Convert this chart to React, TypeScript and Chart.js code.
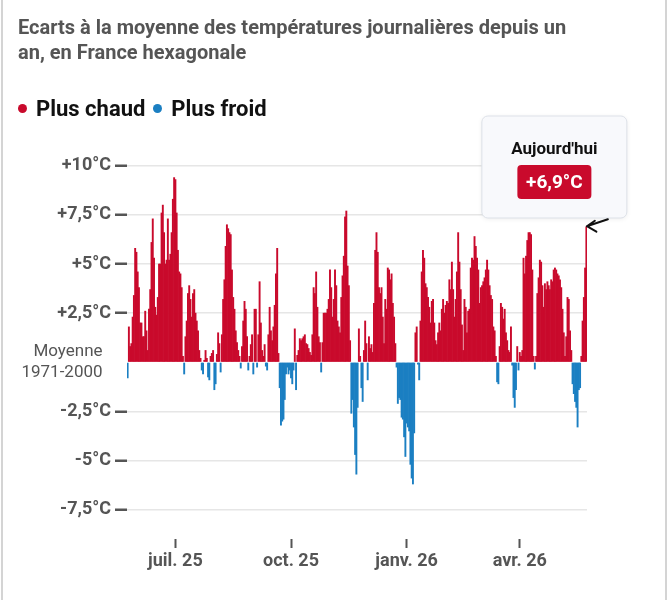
import React, { useEffect, useRef } from 'react';
import { Chart, registerables } from 'chart.js';

Chart.register(...registerables);

// Daily temperature anomaly (°C) vs the 1971-2000 mean, France hexagonale,
// one value per day starting on FIRST_DAY.
const FIRST_DAY = '2025-05-24';

const LATE_SPRING_SUMMER_2025 = [
  -0.8, 1.8, 0.8, 0.95, 2.3, 3.4, 5.8, 5.6, 4.6, 3.8,
  2.0, 2.0, 1.3, 1.3, 2.6, 1.6, 0.6, 2.7, 3.7, 6.1,
  7.3, 5.3, 2.8, 2.4, 3.3, 5.0, 5.0, 7.6, 8.0, 6.6,
  5.0, 5.2, 7.3, 5.2, 5.5, 6.6, 8.3, 9.4, 9.3, 7.6,
  5.7, 4.6, 4.5, 3.8, 0.3, -0.6, 1.3, 2.1, 3.5, 3.9,
  3.2, 2.3, 3.5, 3.7, 2.5, 2.1, 1.6, 0.6, 0.2, -0.4,
  -0.6, 0.1, 0.6, 0.2, -0.75, -0.9, 0.3, 0.45, 0.6, -1.4,
  -1.1, 0.4, 1.5, 0.95, -0.5, 1.4, 3.2, 4.2, 5.9, 7.0,
  6.8, 6.6, 6.5, 4.7, 3.3, 2.7, 1.6, 1.0, 0.6,
];

const AUTUMN_2025 = [
  0.3, -0.3, 0.8, 2.1, 3.1, 2.7, 1.3, -0.4, 0.3, 0.9,
  1.4, -0.6, 2.7, 2.7, -0.25, 1.4, 4.1, 2.0, 0.6, 0.3,
  0.9, -0.2, -0.4, 1.4, 2.8, 1.6, 1.1, 1.8, 2.9, 4.5,
  5.8, 0.45, -1.3, -3.2, -3.0, -2.9, -1.9, -0.6, -0.25, -0.6,
  -0.4, -0.8, -1.1, -0.4, 1.7, -1.4, 0.35, 0.6, 1.2, 1.1,
  1.2, 1.3, 1.4, 0.95, 0.9, 0.7, 0.5, 0.35, 1.4, 3.8,
  3.5, 4.6, 2.8, 1.3, 1.0, -0.5, 1.0, 2.5, 2.5, 2.5,
  2.7, 3.2, 4.7, 3.8, 2.3, 3.2, 4.7, 3.9, 2.1, 1.8,
  1.5, 3.3, 4.4, 5.4, 7.4, 7.7, 4.9, 3.9, 1.1, -2.6, -1.9, -3.3,
];

const WINTER_2025_26 = [
  -4.7, -5.7, -2.3, 1.7, 0.3, -1.3, -2.0, 0.6, 2.1, 0.95,
  -0.9, 1.3, 0.7, 0.9, 0.5, 3.0, 5.7, 6.6, 5.6, 3.8,
  3.5, 3.8, 2.3, 0.95, 3.2, 2.7, 4.8, 4.7, 4.2, 4.5,
  3.0, 2.3, 0.95, -0.25, -2.1, -1.8, -1.9, -2.8, -2.9, -3.8,
  -4.8, -3.1, -3.3, -3.5, -5.2, -5.9, -6.2, -3.6, 1.5, 1.8,
  -0.1, -0.9, 2.1, 4.6, 5.7, 5.3, 4.0, 3.8, 3.3, 2.8,
  2.0, 3.1, 3.2, 2.0, 1.1, 0.9, 1.5, 2.0, 1.6, 2.7,
  3.2, 2.5, 2.9, 3.1, 3.0, 4.2, 3.7, 5.1, 3.7, 2.3,
  3.2, 4.6, 6.6, 5.1, 3.7, 1.9, 0.6, 3.2, 2.8, 1.5, 2.6, 2.7,
];

const SPRING_2026 = [
  4.8, 5.3, 5.2, 6.4, 5.9, 5.3, 4.7, 3.0, 3.8, 3.9,
  4.1, 4.3, 4.7, 5.2, 4.7, 3.9, 3.4, 3.2, 1.8, 1.6,
  0.3, -1.0, -1.1, 0.8, 3.0, 2.8, 2.2, 2.7, 1.5, 1.1,
  0.6, 0.5, 1.8, -0.15, -1.8, -2.3, -1.4, 0.8, -0.4, 0.5,
  0.3, 0.6, 5.3, 4.5, 5.4, 6.2, 6.6, 6.6, 6.5, 4.7,
  0.3, -0.35, 0.3, 3.5, 4.3, 5.2, 5.1, 3.9, 2.8, 4.0,
  3.7, 4.1, 3.9, 3.7, 4.2, 4.1, 4.7, 4.8, 4.7, 4.5,
  4.4, 4.2, 3.8, 2.7, 1.5, 0.3, 1.3, 3.3, 3.2, 1.6,
  0.6, -1.1, -1.6, -2.0, -2.3, -3.3, -1.4, -1.3, 0.3, 2.1, 3.3, 4.8, 6.9,
];

const TICK_DATES = ['2025-07-01', '2025-10-01', '2026-01-01', '2026-04-01'];
const TICK_LABELS = ['juil. 25', 'oct. 25', 'janv. 26', 'avr. 26'];

const Y_TICKS = [-7.5, -5, -2.5, 0, 2.5, 5, 7.5, 10];
const Y_TICK_LABELS: (string | string[])[] = [
  '-7,5°C', '-5°C', '-2,5°C', ['Moyenne  ', '1971-2000  '], '+2,5°C', '+5°C', '+7,5°C', '+10°C',
];

const WARM = '#c90a2c';
const COLD = '#1b7fc2';
const AXIS_TEXT = '#555555';
const FONT = 'Roboto, sans-serif';

const VALUES = [...LATE_SPRING_SUMMER_2025, ...AUTUMN_2025, ...WINTER_2025_26, ...SPRING_2026];

function buildDays(start: string, count: number): string[] {
  const out: string[] = [];
  const d = new Date(start + 'T12:00:00Z');
  for (let i = 0; i < count; i++) {
    out.push(d.toISOString().slice(0, 10));
    d.setUTCDate(d.getUTCDate() + 1);
  }
  return out;
}

const DAYS = buildDays(FIRST_DAY, VALUES.length);

function formatAnomaly(v: number): string {
  return (v >= 0 ? '+' : '') + v.toFixed(1).replace('.', ',') + '°C';
}

function roundRect(ctx: CanvasRenderingContext2D, x: number, y: number, w: number, h: number, r: number) {
  ctx.beginPath();
  ctx.moveTo(x + r, y);
  ctx.lineTo(x + w - r, y);
  ctx.arcTo(x + w, y, x + w, y + r, r);
  ctx.lineTo(x + w, y + h - r);
  ctx.arcTo(x + w, y + h, x + w - r, y + h, r);
  ctx.lineTo(x + r, y + h);
  ctx.arcTo(x, y + h, x, y + h - r, r);
  ctx.lineTo(x, y + r);
  ctx.arcTo(x, y, x + r, y, r);
  ctx.closePath();
}

// Callout box for the most recent day, with a small arrow pointing at its bar.
const todayCallout = {
  id: 'todayCallout',
  afterDatasetsDraw(chart: any) {
    const meta = chart.getDatasetMeta(0);
    const bar = meta.data[meta.data.length - 1];
    if (!bar) return;
    const value = VALUES[VALUES.length - 1];
    const x = bar.x;
    const y = bar.y;
    const ctx: CanvasRenderingContext2D = chart.ctx;
    ctx.save();

    const bx = x - 104.5;
    const by = y - 110.7;
    const bw = 145;
    const bh = 102;
    ctx.shadowColor = 'rgba(0,0,0,0.08)';
    ctx.shadowBlur = 5;
    ctx.shadowOffsetY = 1;
    roundRect(ctx, bx, by, bw, bh, 6);
    ctx.fillStyle = '#f8f9fc';
    ctx.fill();
    ctx.shadowColor = 'transparent';
    ctx.lineWidth = 1;
    ctx.strokeStyle = '#dde1e8';
    ctx.stroke();

    const cx = bx + bw / 2;
    ctx.textAlign = 'center';
    ctx.textBaseline = 'middle';
    ctx.fillStyle = '#111111';
    ctx.font = `bold 17px ${FONT}`;
    ctx.fillText("Aujourd'hui", cx, by + 34);

    roundRect(ctx, cx - 37, by + 49, 74, 34, 4);
    ctx.fillStyle = WARM;
    ctx.fill();
    ctx.fillStyle = '#ffffff';
    ctx.font = `bold 19px ${FONT}`;
    ctx.fillText(formatAnomaly(value), cx, by + 67);

    ctx.strokeStyle = '#111111';
    ctx.lineWidth = 2;
    ctx.lineCap = 'round';
    ctx.lineJoin = 'round';
    ctx.beginPath();
    ctx.moveTo(x + 21.5, y - 7.5);
    ctx.lineTo(x + 0.5, y - 0.5);
    ctx.moveTo(x + 8.5, y - 6);
    ctx.lineTo(x + 0.5, y - 0.5);
    ctx.lineTo(x + 10, y + 5);
    ctx.stroke();
    ctx.restore();
  },
};

export default function App() {
  const canvasRef = useRef<HTMLCanvasElement | null>(null);

  useEffect(() => {
    document.body.style.margin = '0';
    const canvas = canvasRef.current;
    if (!canvas) return;
    Chart.defaults.font.family = FONT;

    const chart = new Chart(canvas, {
      type: 'bar',
      data: {
        labels: DAYS,
        datasets: [
          {
            data: VALUES,
            backgroundColor: VALUES.map((v) => (v >= 0 ? WARM : COLD)),
            borderWidth: 0,
            barPercentage: 1,
            categoryPercentage: 1,
          },
        ],
      },
      options: {
        responsive: false,
        animation: false,
        layout: { padding: { top: 156, right: 82, bottom: 0, left: 0 } },
        plugins: {
          legend: { display: false },
          tooltip: { enabled: false },
        },
        scales: {
          x: {
            type: 'category',
            offset: true,
            border: { display: false },
            grid: {
              display: true,
              drawOnChartArea: false,
              drawTicks: true,
              offset: false,
              tickLength: 9,
              tickWidth: 2,
              tickColor: AXIS_TEXT,
            },
            ticks: {
              autoSkip: false,
              maxRotation: 0,
              minRotation: 0,
              padding: 3,
              color: AXIS_TEXT,
              font: { family: FONT, size: 18, weight: 'bold' },
              callback: (value: any) => TICK_LABELS[TICK_DATES.indexOf(DAYS[Number(value)])] ?? '',
            },
            afterBuildTicks: (axis: any) => {
              axis.ticks = TICK_DATES.map((d) => ({ value: DAYS.indexOf(d) }));
            },
            afterFit: (axis: any) => {
              axis.height = 61;
            },
          },
          y: {
            min: -9,
            max: 10.5,
            border: { display: false },
            grid: {
              drawTicks: true,
              tickLength: 12,
              tickWidth: 2.5,
              lineWidth: 1.5,
              color: (c: any) => (c.tick && c.tick.value === 0 ? 'rgba(0,0,0,0)' : '#e6e6e6'),
              tickColor: (c: any) => (c.tick && c.tick.value === 0 ? 'rgba(0,0,0,0)' : AXIS_TEXT),
            },
            ticks: {
              padding: 4,
              color: AXIS_TEXT,
              font: (c: any) =>
                c.tick && c.tick.value === 0
                  ? { family: FONT, size: 17, weight: 'normal', lineHeight: 1.2 }
                  : { family: FONT, size: 18, weight: 'bold' },
              callback: (value: any) => Y_TICK_LABELS[Y_TICKS.indexOf(Number(value))] ?? '',
            },
            afterBuildTicks: (axis: any) => {
              axis.ticks = Y_TICKS.map((v) => ({ value: v }));
            },
            afterFit: (axis: any) => {
              axis.width = 127;
            },
          },
        },
      },
      plugins: [todayCallout],
    } as any);

    return () => chart.destroy();
  }, []);

  return (
    <div style={{ position: 'relative', width: 669, height: 600, overflow: 'hidden', background: '#ffffff', fontFamily: FONT }}>
      <canvas ref={canvasRef} width={669} height={600} style={{ position: 'absolute', left: 0, top: 0, display: 'block' }} />
      <div style={{ position: 'absolute', left: 1, top: 0, width: 1.5, height: 600, background: '#d4d4d4' }} />
      <div style={{ position: 'absolute', left: 665, top: 0, width: 1.5, height: 600, background: '#d4d4d4' }} />
      <div
        style={{
          position: 'absolute',
          left: 18,
          top: 15,
          fontSize: 20,
          fontWeight: 700,
          lineHeight: '25px',
          color: AXIS_TEXT,
          whiteSpace: 'nowrap',
        }}
      >
        Ecarts à la moyenne des températures journalières depuis un
        <br />
        an, en France hexagonale
      </div>
      <div
        style={{
          position: 'absolute',
          left: 18,
          top: 95,
          height: 26,
          display: 'flex',
          alignItems: 'center',
          fontSize: 22,
          fontWeight: 700,
          color: '#111111',
          whiteSpace: 'nowrap',
        }}
      >
        <span style={{ width: 9, height: 9, borderRadius: '50%', background: WARM, display: 'inline-block', marginRight: 9 }} />
        <span style={{ marginRight: 8 }}>Plus chaud</span>
        <span style={{ width: 9, height: 9, borderRadius: '50%', background: COLD, display: 'inline-block', marginRight: 9 }} />
        <span>Plus froid</span>
      </div>
    </div>
  );
}
